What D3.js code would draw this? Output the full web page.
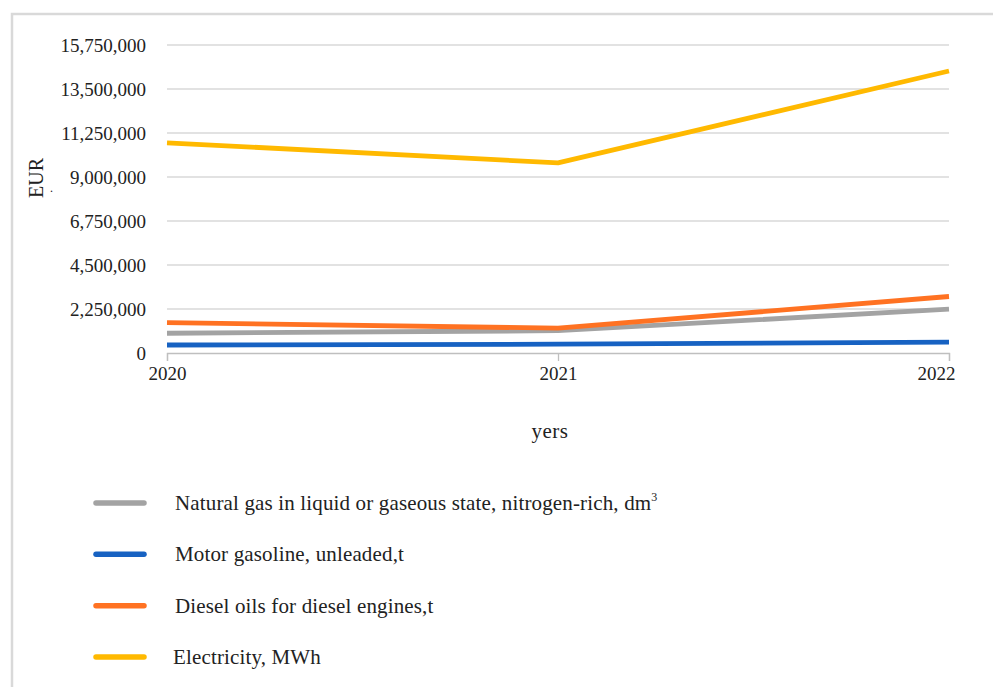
<!DOCTYPE html>
<html>
<head>
<meta charset="utf-8">
<script src="https://cdn.jsdelivr.net/npm/d3@7"></script>
<style>
  html, body { margin: 0; padding: 0; background: #fff; }
  svg text { font-family: "Liberation Serif", "DejaVu Serif", serif; fill: #222; }
</style>
</head>
<body>
<svg id="chart" width="993" height="687"></svg>
<script>
// Years on the x axis
const years = ["2020", "2021", "2022"];

// Cost of each energy carrier per year, EUR
const naturalGas = [1010000, 1140000, 2240000];
const motorGasoline = [410000, 450000, 560000];
const dieselOils = [1550000, 1270000, 2890000];
const electricity = [10750000, 9720000, 14420000];

// Y axis tick values
const yTicks = [0, 2250000, 4500000, 6750000, 9000000, 11250000, 13500000, 15750000];

const seriesNames = [
  "Natural gas in liquid or gaseous state, nitrogen-rich, dm",
  "Motor gasoline, unleaded,t",
  "Diesel oils for diesel engines,t",
  "Electricity, MWh"
];
const seriesColors = ["#a3a3a3", "#1762c2", "#ff7222", "#ffb900"];
const seriesValues = [naturalGas, motorGasoline, dieselOils, electricity];

const svg = d3.select("#chart");

// outer frame
svg.append("path")
  .attr("d", "M12,700 L12,14 L1000,14")
  .attr("fill", "none")
  .attr("stroke", "#d9d9d9")
  .attr("stroke-width", 2.5);

const x = d3.scalePoint().domain(years).range([167, 949]);
const y = d3.scaleLinear().domain([0, 15750000]).range([353, 45]);

// horizontal gridlines
svg.append("g")
  .selectAll("line")
  .data(yTicks.filter(t => t > 0))
  .join("line")
  .attr("x1", 167).attr("x2", 949)
  .attr("y1", d => y(d)).attr("y2", d => y(d))
  .attr("stroke", "#d9d9d9")
  .attr("stroke-width", 1.3);

// y axis labels
const yAxis = d3.axisLeft(y)
  .tickValues(yTicks)
  .tickFormat(d3.format(","))
  .tickSize(0)
  .tickPadding(21);
const gy = svg.append("g").attr("transform", "translate(167,0)").call(yAxis);
gy.select(".domain").remove();
gy.selectAll("text").style("font-size", "19px").attr("fill", "#222");

// x axis
const xAxis = d3.axisBottom(x).tickSize(8).tickPadding(6);
const gx = svg.append("g").attr("transform", "translate(0,353)").call(xAxis);
gx.select(".domain").attr("stroke", "#bfbfbf").attr("stroke-width", 1.3);
gx.selectAll(".tick line").attr("stroke", "#bfbfbf").attr("stroke-width", 1.3);
gx.selectAll("text").style("font-size", "19px").attr("fill", "#222");
gx.selectAll(".tick").filter(d => d === "2022").select("text").attr("dx", -13);

// series lines
const line = d3.line()
  .x((d, i) => x(years[i]))
  .y(d => y(d));

svg.append("g")
  .selectAll("path")
  .data(seriesValues)
  .join("path")
  .attr("d", d => line(d))
  .attr("fill", "none")
  .attr("stroke", (d, i) => seriesColors[i])
  .attr("stroke-width", 4.8)
  .attr("stroke-linejoin", "round");

// axis titles
svg.append("text")
  .attr("transform", "translate(43,178) rotate(-90)")
  .attr("text-anchor", "middle")
  .style("font-size", "20px")
  .text("EUR");
svg.append("text")
  .attr("x", 50).attr("y", 192)
  .style("font-size", "12px")
  .text(".");
svg.append("text")
  .attr("x", 550).attr("y", 438)
  .attr("text-anchor", "middle")
  .style("font-size", "21px")
  .style("letter-spacing", "0.5px")
  .text("yers");

// legend
const legendY = d3.scalePoint().domain(d3.range(seriesNames.length)).range([503, 657]);
const legend = svg.append("g")
  .selectAll("g")
  .data(seriesNames)
  .join("g")
  .attr("transform", (d, i) => `translate(0,${legendY(i)})`);
legend.append("line")
  .attr("x1", 96).attr("x2", 144)
  .attr("stroke", (d, i) => seriesColors[i])
  .attr("stroke-width", 5.5)
  .attr("stroke-linecap", "round");
const lt = legend.append("text")
  .attr("x", (d, i) => i === 3 ? 173 : 175)
  .attr("y", 7)
  .style("font-size", "21px")
  .style("letter-spacing", "0.15px");
lt.text(d => d);
lt.filter((d, i) => i === 0)
  .append("tspan")
  .attr("dy", -9)
  .style("font-size", "12px")
  .text("3");
</script>
</body>
</html>
